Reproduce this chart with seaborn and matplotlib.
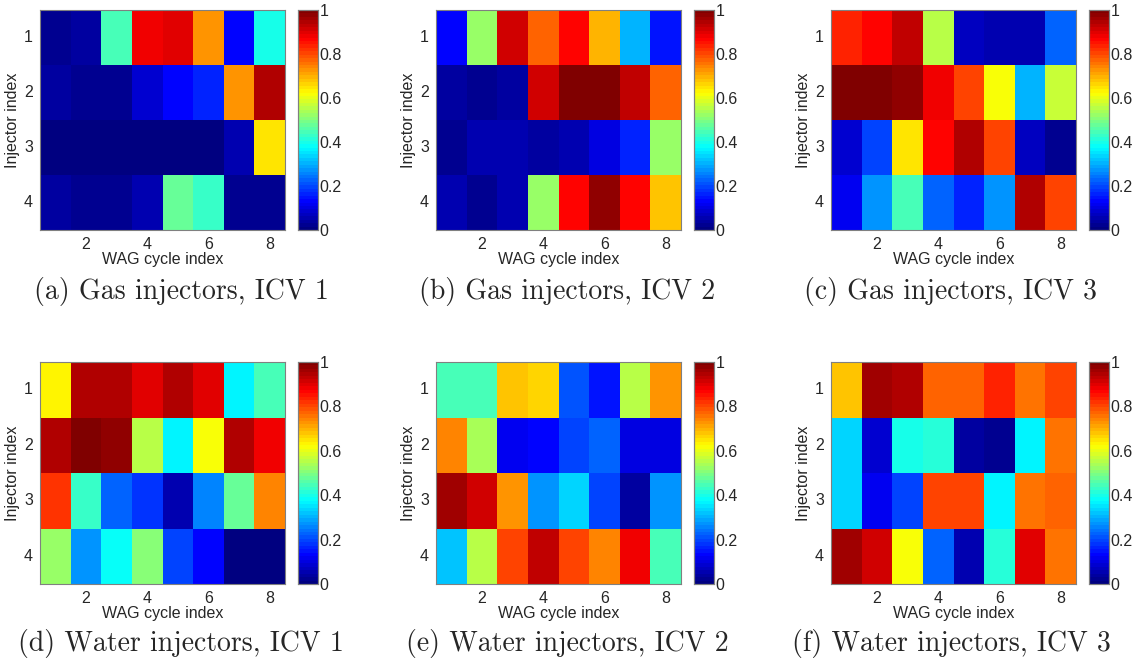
import numpy as np
import pandas as pd
import matplotlib
matplotlib.use("Agg")
import matplotlib.pyplot as plt
from matplotlib.colors import LinearSegmentedColormap
import seaborn as sns

sns.set_style("white")
plt.rcParams['font.family'] = ['Liberation Sans', 'DejaVu Sans']

cycles = [1, 2, 3, 4, 5, 6, 7, 8]
injectors = [1, 2, 3, 4]
xtick_labels = ["2", "4", "6", "8"]
ytick_labels = ["1", "2", "3", "4"]
cbar_ticks = [0, 0.2, 0.4, 0.6, 0.8, 1]
cbar_labels = ["0", "0.2", "0.4", "0.6", "0.8", "1"]

gas_icv1 = [
    [0.02, 0.04, 0.45, 0.88, 0.90, 0.72, 0.13, 0.40],
    [0.04, 0.02, 0.02, 0.08, 0.14, 0.16, 0.72, 0.95],
    [0.01, 0.01, 0.01, 0.01, 0.01, 0.01, 0.06, 0.65],
    [0.04, 0.02, 0.02, 0.05, 0.48, 0.43, 0.03, 0.02],
]
gas_icv2 = [
    [0.13, 0.52, 0.92, 0.77, 0.87, 0.70, 0.30, 0.15],
    [0.04, 0.03, 0.04, 0.91, 1.00, 1.00, 0.93, 0.77],
    [0.03, 0.06, 0.05, 0.04, 0.05, 0.10, 0.16, 0.52],
    [0.05, 0.03, 0.05, 0.52, 0.87, 0.97, 0.87, 0.68],
]
gas_icv3 = [
    [0.84, 0.87, 0.93, 0.56, 0.07, 0.06, 0.06, 0.23],
    [1.00, 1.00, 0.97, 0.88, 0.80, 0.62, 0.30, 0.57],
    [0.08, 0.20, 0.65, 0.86, 0.95, 0.80, 0.07, 0.03],
    [0.12, 0.28, 0.45, 0.22, 0.17, 0.28, 0.95, 0.80],
]
water_icv1 = [
    [0.64, 0.94, 0.95, 0.90, 0.94, 0.90, 0.36, 0.45],
    [0.95, 1.00, 0.98, 0.56, 0.36, 0.62, 0.94, 0.88],
    [0.82, 0.43, 0.22, 0.18, 0.06, 0.25, 0.48, 0.74],
    [0.52, 0.27, 0.38, 0.50, 0.20, 0.14, 0.01, 0.01],
]
water_icv2 = [
    [0.44, 0.44, 0.68, 0.66, 0.21, 0.15, 0.56, 0.72],
    [0.74, 0.54, 0.12, 0.13, 0.19, 0.22, 0.10, 0.10],
    [0.96, 0.92, 0.72, 0.28, 0.34, 0.19, 0.04, 0.27],
    [0.32, 0.56, 0.80, 0.93, 0.80, 0.74, 0.88, 0.45],
]
water_icv3 = [
    [0.68, 0.96, 0.95, 0.78, 0.78, 0.83, 0.76, 0.81],
    [0.33, 0.09, 0.40, 0.42, 0.04, 0.02, 0.36, 0.76],
    [0.33, 0.11, 0.20, 0.80, 0.80, 0.36, 0.76, 0.78],
    [0.96, 0.91, 0.62, 0.22, 0.05, 0.42, 0.90, 0.76],
]

panels = [
    (gas_icv1, "(a) Gas injectors, ICV 1"),
    (gas_icv2, "(b) Gas injectors, ICV 2"),
    (gas_icv3, "(c) Gas injectors, ICV 3"),
    (water_icv1, "(d) Water injectors, ICV 1"),
    (water_icv2, "(e) Water injectors, ICV 2"),
    (water_icv3, "(f) Water injectors, ICV 3"),
]

# MATLAB-style jet (64 levels)
matlab_jet = LinearSegmentedColormap.from_list(
    "matlab_jet",
    [(0.0, (0, 0, 0.5)), (0.125, (0, 0, 1)), (0.375, (0, 1, 1)),
     (0.625, (1, 1, 0)), (0.875, (1, 0, 0)), (1.0, (0.5, 0, 0))],
    N=64)

W, H = 1139, 664
fig = plt.figure(figsize=(W / 100, H / 100), dpi=100)

ax_lefts = [40, 436, 831]
cb_lefts = [298, 694, 1089]
row_tops = [10, 362]
row_heights = [220, 222]
cap_x = [181, 567, 951]
cap_y = [292, 643]

def px_rect(l, t, w, h):
    return [l / W, (H - t - h) / H, w / W, h / H]

edge = "#808080"
fs = 11.5
for i, (data, caption) in enumerate(panels):
    r, c = divmod(i, 3)
    ax = fig.add_axes(px_rect(ax_lefts[c], row_tops[r], 245, row_heights[r]))
    cax = fig.add_axes(px_rect(cb_lefts[c], row_tops[r], 20, row_heights[r]))
    df = pd.DataFrame(data, index=injectors, columns=cycles)
    sns.heatmap(df, ax=ax, cbar_ax=cax, cmap=matlab_jet, vmin=0, vmax=1,
                cbar_kws={"ticks": cbar_ticks})
    ax.set_xticks([1.5, 3.5, 5.5, 7.5])
    ax.set_xticklabels(xtick_labels, rotation=0, fontsize=fs)
    ax.set_yticks([0.5, 1.5, 2.5, 3.5])
    ax.set_yticklabels(ytick_labels, rotation=0, fontsize=fs, va="center")
    ax.tick_params(direction="in", length=3, width=0.6, color="#404040",
                   top=True, right=True, bottom=True, left=True, pad=5)
    ax.set_xlabel("WAG cycle index", fontsize=fs, labelpad=0)
    ax.set_ylabel("Injector index", fontsize=fs, labelpad=3)
    for s in ax.spines.values():
        s.set_visible(True)
        s.set_color(edge)
        s.set_linewidth(0.8)
    cax.set_yticklabels(cbar_labels, fontsize=fs)
    cax.tick_params(direction="in", length=3, width=0.6, color="#404040",
                    left=True, right=True, pad=1)
    for s in cax.spines.values():
        s.set_visible(True)
        s.set_color(edge)
        s.set_linewidth(0.8)
    fig.text(cap_x[c] / W, 1 - cap_y[r] / H, caption, ha="center", va="center",
             fontsize=20, family="cmr10")

fig.savefig("out.png", dpi=100)
